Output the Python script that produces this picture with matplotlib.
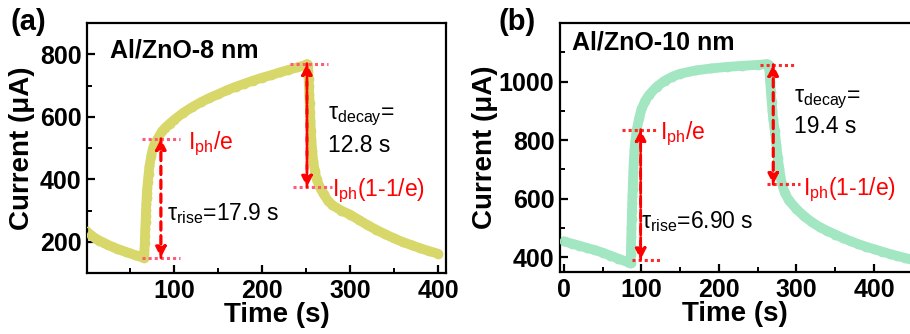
import numpy as np
import matplotlib

matplotlib.use('Agg')
import matplotlib.pyplot as plt

plt.rcParams['font.family'] = ['Liberation Sans', 'DejaVu Sans']
plt.rcParams['mathtext.fontset'] = 'custom'
plt.rcParams['mathtext.rm'] = 'Liberation Sans'
plt.rcParams['mathtext.it'] = 'Liberation Sans:italic'
plt.rcParams['mathtext.bf'] = 'Liberation Sans:bold'
plt.rcParams['xtick.direction'] = 'in'
plt.rcParams['ytick.direction'] = 'in'
plt.rcParams['axes.linewidth'] = 1.6

# Al/ZnO-8 nm
t_a = [0, 5, 10, 15, 20, 25, 30, 35, 40, 45, 50, 55, 60, 64, 65.5,
       66, 66.3, 66.6, 66.9, 67.2, 67.5, 67.8, 68.1, 68.4, 68.7, 69, 69.5, 70,
       71, 72, 74, 76, 78, 82, 86, 90, 95, 100, 110, 120, 130, 140, 150, 160,
       170, 180, 190, 200, 210, 220, 230, 240, 250, 251,
       252, 252.4, 252.8, 253.2, 253.6, 254, 254.5, 255, 255.5, 256, 257, 258,
       260, 262, 265, 270, 275, 280, 290, 300, 310, 320, 330, 340, 350, 360,
       370, 380, 390, 400]
i_a = [235, 222, 212, 204, 197, 190, 184, 178, 173, 168, 163, 158, 154, 150, 148,
       160, 175, 195, 218, 240, 262, 283, 303, 322, 340, 357, 373, 390,
       418, 442, 475, 500, 515, 533, 553, 565, 578, 590, 612, 630, 646, 660, 672, 685,
       696, 706, 716, 725, 733, 742, 750, 758, 766, 769,
       765, 745, 722, 698, 672, 645, 615, 585, 555, 527, 490, 460,
       425, 400, 378, 352, 331, 317, 300, 287, 270, 253, 238, 224, 211, 199,
       189, 179, 170, 162]

# Al/ZnO-10 nm
t_b = [0, 10, 20, 30, 40, 50, 60, 70, 80, 85,
       86, 86.3, 86.6, 86.9, 87.2, 87.5, 87.8, 88.1, 88.4, 88.7, 89, 89.5, 90,
       91, 92, 94, 97, 100, 105, 110, 120, 130, 140, 150, 170, 190, 210, 230,
       250, 262,
       264, 265, 265.5, 266, 267, 268, 269, 270, 272, 274, 276, 278, 281, 285,
       290, 300, 310, 320, 330, 340, 350, 360, 370, 380, 390, 400, 410, 420,
       430, 440, 446]
i_b = [455, 447, 440, 432, 425, 416, 406, 396, 386, 380,
       382, 410, 440, 470, 500, 530, 558, 585, 610, 632, 655, 690, 725,
       765, 795, 836, 875, 905, 935, 955, 983, 1003, 1017, 1027, 1038, 1045, 1050, 1054,
       1057, 1060,
       1058, 1040, 1020, 1000, 965, 930, 900, 872, 830, 785, 740, 700, 652, 620,
       595, 565, 540, 520, 503, 490, 478, 466, 455, 445, 436, 428, 420, 412,
       405, 398, 394]

col_a = '#d8d86a'
col_b = '#a2e6c2'
FS = 16.5


def draw_curve(ax, t, i, c):
    ax.plot(t, i, '-', color=c, lw=7, solid_capstyle='round', zorder=2)
    ax.plot(t, i, 'o', mfc='none', mec=c, ms=6.0, mew=1.0, zorder=3)


def level(ax, x0, x1, y, c):
    ax.plot([x0, x1], [y, y], ls=(0, (1, 1)), color=c, lw=2.2, zorder=4)


def arrow(ax, x, y0, y1):
    for a, b in [(y0, y1), (y1, y0)]:
        ax.annotate('', xy=(x, b), xytext=(x, a),
                    arrowprops=dict(arrowstyle='-|>', ls=(0, (3, 2)), color='red',
                                    lw=2, mutation_scale=16, shrinkA=0, shrinkB=0),
                    zorder=5)


def style(ax):
    ax.tick_params(which='major', length=6, width=1.6, labelsize=18, pad=4)
    ax.tick_params(which='minor', length=3.5, width=1.4)
    for lab in ax.get_xticklabels() + ax.get_yticklabels():
        lab.set_fontweight('bold')
    ax.set_xlabel('Time (s)', fontsize=20, fontweight='bold')
    ax.set_ylabel('Current (μA)', fontsize=20, fontweight='bold')


fig = plt.figure(figsize=(9.1, 3.34), dpi=100)

# (a)
ax1 = fig.add_axes([0.0956, 0.1826, 0.3945, 0.7485])
draw_curve(ax1, t_a, i_a, col_a)
ax1.set_xlim(1, 409)
ax1.set_ylim(100, 900)
ax1.set_xticks([100, 200, 300, 400])
ax1.set_xticks([50, 150, 250, 350], minor=True)
ax1.set_yticks([200, 400, 600, 800])
ax1.set_yticks([300, 500, 700], minor=True)
style(ax1)
ax1.yaxis.set_label_coords(-0.145, 0.5)
ax1.xaxis.set_label_coords(0.53, -0.115)

pink = '#ff5a7a'
level(ax1, 63, 107, 530, pink)
level(ax1, 64, 107, 149, pink)
arrow(ax1, 85, 149, 530)
level(ax1, 232, 275, 770, pink)
level(ax1, 235, 279, 375, pink)
arrow(ax1, 251, 770, 375)

ax1.text(116, 515, 'I$_{\\rm ph}$/e', color='red', fontsize=FS, va='center')
ax1.text(92, 290, 'τ$_{\\rm rise}$=17.9 s', color='black', fontsize=FS, va='center')
ax1.text(279, 363, 'I$_{\\rm ph}$(1-1/e)', color='red', fontsize=FS, va='center')
ax1.text(275, 600, 'τ$_{\\rm decay}$=', color='black', fontsize=FS, va='center')
ax1.text(275, 507, '12.8 s', color='black', fontsize=FS, va='center')
ax1.text(0.065, 0.94, 'Al/ZnO-8 nm', transform=ax1.transAxes, fontsize=18,
         fontweight='bold', va='top')
fig.text(0.012, 0.975, '(a)', fontsize=21, fontweight='bold', va='top')

# (b)
ax2 = fig.add_axes([0.6154, 0.1856, 0.3919, 0.7455])
draw_curve(ax2, t_b, i_b, col_b)
ax2.set_xlim(-5, 455)
ax2.set_ylim(350, 1200)
ax2.set_xticks([0, 100, 200, 300, 400])
ax2.set_xticks([50, 150, 250, 350, 450], minor=True)
ax2.set_yticks([400, 600, 800, 1000])
ax2.set_yticks([500, 700, 900, 1100], minor=True)
style(ax2)
ax2.yaxis.set_label_coords(-0.174, 0.5)
ax2.xaxis.set_label_coords(0.49, -0.115)

red = '#ff2a2a'
level(ax2, 75, 120, 836, red)
level(ax2, 88, 124, 392, red)
arrow(ax2, 99, 392, 836)
level(ax2, 253, 298, 1058, red)
level(ax2, 262, 304, 649, red)
arrow(ax2, 270, 1058, 649)

ax2.text(124, 822, 'I$_{\\rm ph}$/e', color='red', fontsize=FS, va='center')
ax2.text(99, 523, 'τ$_{\\rm rise}$=6.90 s', color='black', fontsize=FS, va='center')
ax2.text(308, 631, 'I$_{\\rm ph}$(1-1/e)', color='red', fontsize=FS, va='center')
ax2.text(297, 940, 'τ$_{\\rm decay}$=', color='black', fontsize=FS, va='center')
ax2.text(297, 846, '19.4 s', color='black', fontsize=FS, va='center')
ax2.text(0.035, 0.97, 'Al/ZnO-10 nm', transform=ax2.transAxes, fontsize=18,
         fontweight='bold', va='top')
fig.text(0.548, 0.975, '(b)', fontsize=21, fontweight='bold', va='top')

plt.savefig('out.png', dpi=100)
